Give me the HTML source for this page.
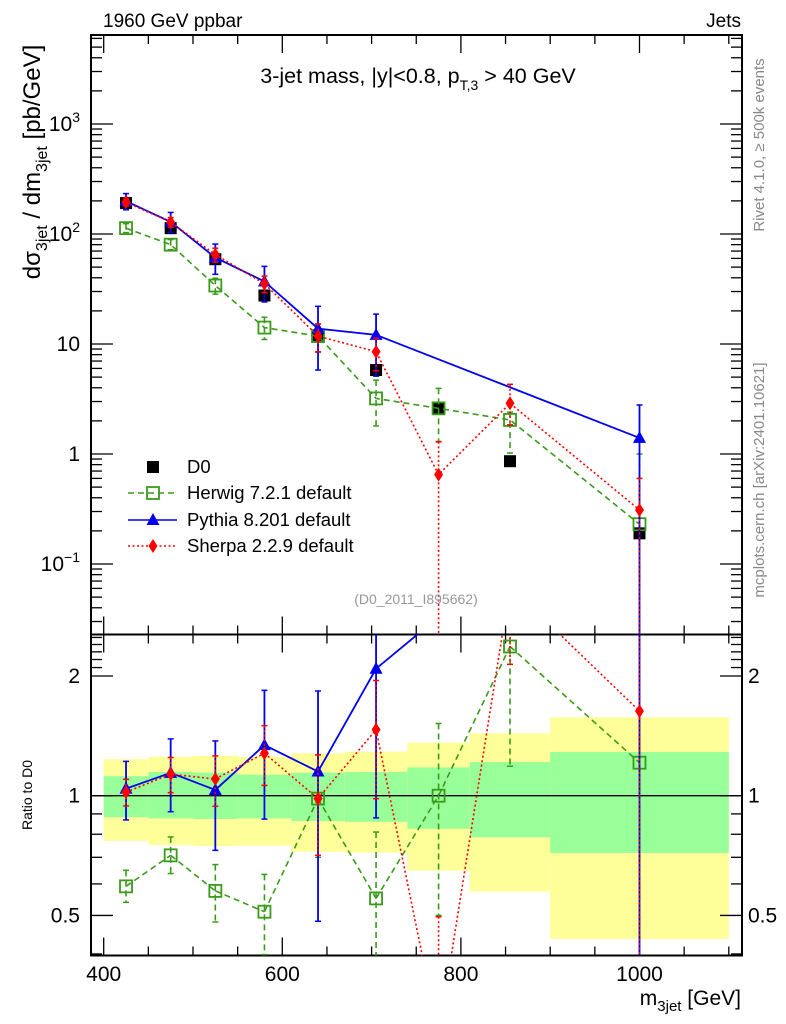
<!DOCTYPE html>
<html><head><meta charset="utf-8"><style>
html,body{margin:0;padding:0;background:#fff;width:786px;height:1024px;overflow:hidden;}
svg{display:block;font-family:"Liberation Sans",Arial,sans-serif;}
</style></head><body>
<svg id="chart" width="786" height="1024" viewBox="0 0 786 1024">
<g id="bands"></g>
<g id="grid"></g>
<g id="series"></g>
<g id="labels">
<text x="103" y="27" font-size="19">1960 GeV ppbar</text>
<text x="741" y="27" font-size="19" text-anchor="end">Jets</text>
<text x="418" y="83" font-size="21.5" text-anchor="middle">3-jet mass, |y|&lt;0.8, p<tspan font-size="14" dy="7">T,3</tspan><tspan dy="-7"> &gt; 40 GeV</tspan></text>
<text transform="translate(40,162) rotate(-90)" font-size="24" text-anchor="middle">dσ<tspan font-size="16" dy="7">3jet</tspan><tspan dy="-7"> / dm</tspan><tspan font-size="16" dy="7">3jet</tspan><tspan dy="-7"> [pb/GeV]</tspan></text>
<text transform="translate(32,795) rotate(-90)" font-size="14" text-anchor="middle">Ratio to D0</text>
<text x="741" y="1005" font-size="21" text-anchor="end">m<tspan font-size="15" dy="6">3jet</tspan><tspan dy="-6"> [GeV]</tspan></text>
<text transform="translate(764,145) rotate(-90)" font-size="15" fill="#888" text-anchor="middle">Rivet 4.1.0, ≥ 500k events</text>
<text transform="translate(764,480) rotate(-90)" font-size="15" fill="#888" text-anchor="middle">mcplots.cern.ch [arXiv:2401.10621]</text>
<text x="416" y="604" font-size="14" fill="#999" text-anchor="middle">(D0_2011_I895662)</text>
</g>
<g id="legend"></g>
</svg>
<script>
// ---- data ----
const xs = [425, 475, 525, 580, 640, 705, 775, 855, 1000];
const d0 = [191, 113, 59, 27.6, 12, 5.8, 2.6, 0.86, 0.19];
const herwig = [113, 80, 34, 14.1, 11.8, 3.2, 2.6, 2.04, 0.23];
const herwigLo = [103, 72, 28.4, 11, 8.4, 1.8, 1.3, 1.02, 0.001];
const herwigHi = [124, 89, 39.6, 17.5, 15.2, 4.7, 3.95, 2.4, 1.0];
const pythiaX = [425, 475, 525, 580, 640, 705, 1000];
const pythia = [199, 129, 61, 37, 13.8, 12.1, 1.4];
const pythiaLo = [166, 103, 43, 24.1, 5.8, 5.1, 0.001];
const pythiaHi = [233, 157, 81, 50.8, 22, 18.7, 2.79];
const sherpa = [195, 128, 65, 35.3, 11.8, 8.5, 0.65, 2.89, 0.31];
const sherpaLo = [180, 115, 55.5, 29.3, 8.5, 5.7, 0.001, 1.84, 0.001];
const sherpaHi = [210, 141, 74.3, 41.4, 15.2, 11.3, 1.29, 4.3, 0.6];
const binEdges = [400, 450, 500, 550, 610, 670, 740, 810, 900, 1100];
const bandYellowHi = [1.235, 1.253, 1.26, 1.253, 1.278, 1.29, 1.36, 1.435, 1.575];
const bandYellowLo = [0.77, 0.752, 0.747, 0.749, 0.723, 0.719, 0.648, 0.574, 0.436];
const bandGreenHi = [1.12, 1.147, 1.143, 1.129, 1.143, 1.147, 1.178, 1.215, 1.288];
const bandGreenLo = [0.883, 0.877, 0.874, 0.877, 0.864, 0.86, 0.826, 0.786, 0.718];
const mainTickVals = [0.1, 1, 10, 100, 1000];
const mainTickLabels = ["10^-1", "1", "10", "10^2", "10^3"];
const ratioTickVals = [0.5, 1, 2];
const ratioTickLabels = ["0.5", "1", "2"];
const xTickVals = [400, 600, 800, 1000];

// ---- geometry ----
const L = 91, R = 742, T = 35, MB = 634.5, RB = 955.5;
const NS = "http://www.w3.org/2000/svg";
function X(v){ return 103.7 + (v - 400) * 0.893; }
function YM(v){ return Math.min(MB + 20, Math.max(T - 20, 454 - 110 * Math.log10(v))); }
function YR(v){ return Math.min(RB + 20, Math.max(MB - 20, 795.7 - 397.7 * Math.log10(v))); }
function mk(tag, attrs, parent){
  const e = document.createElementNS(NS, tag);
  for (const k in attrs) e.setAttribute(k, attrs[k]);
  parent.appendChild(e); return e;
}
const bands = document.getElementById('bands');
const grid = document.getElementById('grid');
const series = document.getElementById('series');
const legend = document.getElementById('legend');

for (let i = 0; i < bandYellowHi.length; i++) {
  const x0 = X(binEdges[i]), x1 = X(binEdges[i+1]);
  const y = mk('rect', {x:x0, y:YR(bandYellowHi[i]), width:x1-x0, height:YR(bandYellowLo[i])-YR(bandYellowHi[i]), fill:'#ffff99'}, bands);
  
  
  const g = mk('rect', {x:x0, y:YR(bandGreenHi[i]), width:x1-x0, height:YR(bandGreenLo[i])-YR(bandGreenHi[i]), fill:'#99ff99'}, bands);
  
  
}
const one = mk('line', {x1:L, x2:R, y1:YR(1), y2:YR(1), stroke:'#000', 'stroke-width':1.3}, grid);



for (const [y0, y1, nm] of [[T, MB, 'main-frame'], [MB, RB, 'ratio-frame']]) {
  const f = mk('rect', {x:L, y:y0, width:R-L, height:y1-y0, fill:'none', stroke:'#000', 'stroke-width':2}, grid);
  
  
}
for (let v = 400; v <= 1100; v += 50) {
  const major = v % 200 === 0;
  const len = major ? 18 : 9;
  const x = X(v);
  for (const [yb, dir] of [[T,1],[MB,-1],[MB,1],[RB,-1]]) {
    mk('line', {x1:x, x2:x, y1:yb, y2:yb + dir*len, stroke:'#000', 'stroke-width':1.3}, grid);
  }
}
xTickVals.forEach(v => {
  const t = mk('text', {x:X(v), y:981, 'font-size':21, 'text-anchor':'middle'}, grid);
  t.textContent = String(v);
  
  
});
for (let d = -2; d <= 3; d++) {
  for (let m = 1; m <= 9; m++) {
    const v = m * Math.pow(10, d);
    const y = 454 - 110 * Math.log10(v);
    if (y < T || y > MB) continue;
    const len = m === 1 ? 22 : 11;
    mk('line', {x1:L, x2:L+len, y1:y, y2:y, stroke:'#000', 'stroke-width':1.3}, grid);
    mk('line', {x1:R, x2:R-len, y1:y, y2:y, stroke:'#000', 'stroke-width':1.3}, grid);
  }
}
mainTickVals.forEach((v, i) => {
  const t = mk('text', {x:80, y:YM(v)+7, 'font-size':21, 'text-anchor':'end'}, grid);
  const lab = mainTickLabels[i];
  if (lab.indexOf('^') >= 0) {
    const [b, e] = lab.split('^');
    t.textContent = b;
    const s = mk('tspan', {'font-size':14, dy:-9}, t);
    s.textContent = e.replace('-', '−');
  } else t.textContent = lab;
  
  
});
for (let d = -1; d <= 0; d++) {
  for (let m = 1; m <= 9; m++) {
    const v = m * Math.pow(10, d);
    const y = 795.7 - 397.7 * Math.log10(v);
    if (y < MB || y > RB) continue;
    const len = (v === 0.5 || v === 1 || v === 2) ? 22 : 11;
    mk('line', {x1:L, x2:L+len, y1:y, y2:y, stroke:'#000', 'stroke-width':1.3}, grid);
    mk('line', {x1:R, x2:R-len, y1:y, y2:y, stroke:'#000', 'stroke-width':1.3}, grid);
  }
}
for (let v = 2.1; v < 2.6; v += 0.1) {
  const y = 795.7 - 397.7 * Math.log10(v); if (y < MB) continue;
  mk('line', {x1:L, x2:L+11, y1:y, y2:y, stroke:'#000', 'stroke-width':1.3}, grid);
  mk('line', {x1:R, x2:R-11, y1:y, y2:y, stroke:'#000', 'stroke-width':1.3}, grid);
}
ratioTickVals.forEach((v, i) => {
  const t1 = mk('text', {x:80, y:YR(v)+7, 'font-size':21, 'text-anchor':'end'}, grid);
  t1.textContent = ratioTickLabels[i];
  
  
  const t2 = mk('text', {x:748, y:YR(v)+7, 'font-size':21}, grid);
  t2.textContent = ratioTickLabels[i];
  
  
});

const defs = mk('defs', {}, document.getElementById('chart'));
const c1 = mk('clipPath', {id:'clipM'}, defs); mk('rect', {x:L, y:T, width:R-L, height:MB-T}, c1);
const c2 = mk('clipPath', {id:'clipR'}, defs); mk('rect', {x:L, y:MB, width:R-L, height:RB-MB}, c2);
const gM = mk('g', {'clip-path':'url(#clipM)'}, series);
const gR = mk('g', {'clip-path':'url(#clipR)'}, series);

function marker(g, type, x, y, color, name){
  let e;
  if (type === 'square') e = mk('rect', {x:x-6, y:y-6, width:12, height:12, fill:'#000'}, g);
  else if (type === 'osquare') e = mk('rect', {x:x-6, y:y-6, width:12, height:12, fill:'#fff', 'fill-opacity':0, stroke:color, 'stroke-width':1.8}, g);
  else if (type === 'tri') e = mk('polygon', {points:`${x},${y-7} ${x-6.5},${y+5} ${x+6.5},${y+5}`, fill:color}, g);
  else e = mk('polygon', {points:`${x},${y-7} ${x-4.5},${y} ${x},${y+7} ${x+4.5},${y}`, fill:color}, g);
  
  
}
function ratioLinePts(xv, vals){
  // compute unclamped positions, then clip segments to panel by linear interpolation
  const raw = xv.map((x, i) => [X(x), 795.7 - 397.7 * Math.log10(vals[i] / d0[xs.indexOf(x)])]);
  const lo = MB - 20, hi = RB + 20;
  const out = [];
  for (let i = 0; i < raw.length - 1; i++) {
    let [x0, y0] = raw[i], [x1, y1] = raw[i+1];
    const clip = (xa, ya, xb, yb) => {
      if (ya < lo) { const t = (lo - ya) / (yb - ya); return [xa + t*(xb-xa), lo]; }
      if (ya > hi) { const t = (hi - ya) / (yb - ya); return [xa + t*(xb-xa), hi]; }
      return [xa, ya];
    };
    if ((y0 < lo && y1 < lo) || (y0 > hi && y1 > hi)) continue;
    const a = clip(x0, y0, x1, y1), b = clip(x1, y1, x0, y0);
    out.push([a, b]);
  }
  return out;
}
function drawSeries(xv, vals, lo, hi, color, dash, type, name, width){
  const st = {stroke:color, 'stroke-width':width, fill:'none'};
  if (dash) st['stroke-dasharray'] = dash;
  const ptsM = xv.map((x, i) => `${X(x)},${YM(vals[i])}`).join(' ');
  const l1 = mk('polyline', Object.assign({points:ptsM}, st), gM);
  
  
  ratioLinePts(xv, vals).forEach(([a, b]) => {
    const l2 = mk('line', Object.assign({x1:a[0], y1:a[1], x2:b[0], y2:b[1]}, st), gR);
    
    
  });
  xv.forEach((x, i) => {
    const px = X(x), dv = d0[xs.indexOf(x)];
    for (const [g, f] of [[gM, YM], [gR, v => YR(v / dv)]]) {
      const yl = f(lo[i]), yh = f(hi[i]);
      const eb = mk('line', Object.assign({x1:px, x2:px, y1:yh, y2:yl}, st), g);
      
      
      mk('line', {x1:px-3, x2:px+3, y1:yh, y2:yh, stroke:color, 'stroke-width':1.5}, g);
      mk('line', {x1:px-3, x2:px+3, y1:yl, y2:yl, stroke:color, 'stroke-width':1.5}, g);
      marker(g, type, px, g === gM ? YM(vals[i]) : YR(vals[i] / dv), color, name + '-point');
    }
  });
}
xs.forEach((x, i) => { marker(gM, 'square', X(x), YM(d0[i]), '#000', 'd0-point'); });
drawSeries(xs, herwig, herwigLo, herwigHi, '#3a9a1a', '6,4', 'osquare', 'herwig', 1.6);
drawSeries(pythiaX, pythia, pythiaLo, pythiaHi, '#0000ee', null, 'tri', 'pythia', 1.8);
drawSeries(xs, sherpa, sherpaLo, sherpaHi, '#ff0000', '2,2.5', 'diamond', 'sherpa', 1.6);

const legItems = [
  ['D0', '#000', null, 'square', 467],
  ['Herwig 7.2.1 default', '#3a9a1a', '6,4', 'osquare', 493],
  ['Pythia 8.201 default', '#0000ee', null, 'tri', 520],
  ['Sherpa 2.2.9 default', '#ff0000', '2,2.5', 'diamond', 546]
];
legItems.forEach(([lab, col, dash, type, y]) => {
  const g = mk('g', {}, legend);
  
  
  if (type !== 'square') {
    const a = {x1:128, x2:177, y1:y, y2:y, stroke:col, 'stroke-width':1.6};
    if (dash) a['stroke-dasharray'] = dash;
    mk('line', a, g);
  }
  marker(g, type === 'square' ? 'square' : type, 153, y, col, 'legend-marker');
  const t = mk('text', {x:187, y:y+6, 'font-size':18.5}, g);
  t.textContent = lab;
});
</script>
</body></html>
